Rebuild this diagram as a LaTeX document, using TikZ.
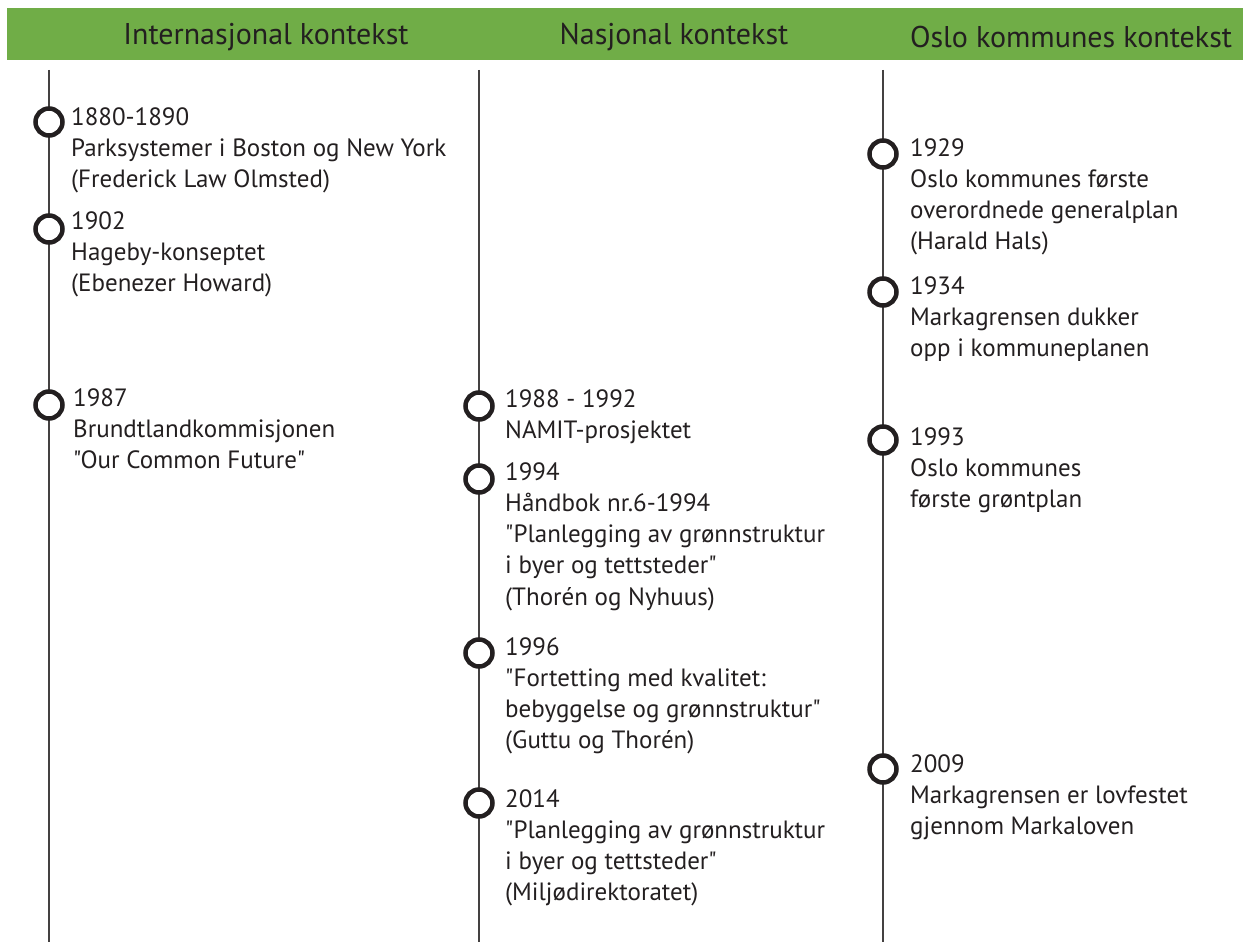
\documentclass[tikz,border=0pt]{standalone}
\usepackage{fontspec}
\setmainfont{PT Sans}[Ligatures=TeXOff]
\definecolor{hdrgreen}{HTML}{70AD47}
\definecolor{ink}{HTML}{231F20}
\begin{document}
\begin{tikzpicture}[x=1pt,y=-1pt,
  tline/.style={draw=ink!85, line width=2pt},
  dot/.style={circle, draw=ink, line width=4.5pt, fill=white, minimum size=27pt, inner sep=0pt},
  lbl/.style={anchor=north west, align=left, inner sep=0pt, text=ink, font=\fontsize{25}{31.3}\selectfont},
  hdr/.style={text=ink, inner sep=0pt, font=\fontsize{30}{34}\selectfont}]
\useasboundingbox (0,0) rectangle (1250,942);
\fill[hdrgreen] (7,8) rectangle (1243,60);
\node[hdr] (h1) at (266,37) {Internasjonal kontekst};
\node[hdr] (h2) at (674,37) {Nasjonal kontekst};
\node[hdr] (h3) at (1071,37) {Oslo kommunes kontekst};
% timelines
\coordinate (it) at (49,70);  \coordinate (ib) at (49,942);
\coordinate (nt) at (479,70); \coordinate (nb) at (479,942);
\coordinate (ot) at (883,70); \coordinate (ob) at (883,942);
\draw[tline] (it) -- (ib);
\draw[tline] (nt) -- (nb);
\draw[tline] (ot) -- (ob);
% international
\node[dot] (i1) at (49,122) {};
\node[dot] (i2) at (49,229) {};
\node[dot] (i3) at (49,405) {};
\node[lbl] (i1t) at (71,107) {1880-1890\\Parksystemer i Boston og New York\\(Frederick Law Olmsted)};
\node[lbl] (i2t) at (71,211) {1902\\Hageby-konseptet\\(Ebenezer Howard)};
\node[lbl] (i3t) at (73,388) {1987\\Brundtlandkommisjonen\\"Our Common Future"};
% national
\node[dot] (n1) at (479,406) {};
\node[dot] (n2) at (479,479) {};
\node[dot] (n3) at (479,653) {};
\node[dot] (n4) at (479,803) {};
\node[lbl] (n1t) at (505,389) {1988 - 1992\\NAMIT-prosjektet};
\node[lbl] (n2t) at (505,462) {1994\\Håndbok nr.6-1994\\"Planlegging av grønnstruktur\\i byer og tettsteder"\\(Thorén og Nyhuus)};
\node[lbl] (n3t) at (505,637) {1996\\"Fortetting med kvalitet:\\bebyggelse og grønnstruktur"\\(Guttu og Thorén)};
\node[lbl] (n4t) at (505,789) {2014\\"Planlegging av grønnstruktur\\i byer og tettsteder"\\(Miljødirektoratet)};
% oslo
\node[dot] (o1) at (883,154) {};
\node[dot] (o2) at (883,292) {};
\node[dot] (o3) at (883,440) {};
\node[dot] (o4) at (883,769) {};
\node[lbl] (o1t) at (910,138) {1929\\Oslo kommunes første\\overordnede generalplan\\(Harald Hals)};
\node[lbl] (o2t) at (910,276) {1934\\Markagrensen dukker\\opp i kommuneplanen};
\node[lbl] (o3t) at (910,427) {1993\\Oslo kommunes\\første grøntplan};
\node[lbl] (o4t) at (910,754) {2009\\Markagrensen er lovfestet\\gjennom Markaloven};
\end{tikzpicture}
\end{document}
